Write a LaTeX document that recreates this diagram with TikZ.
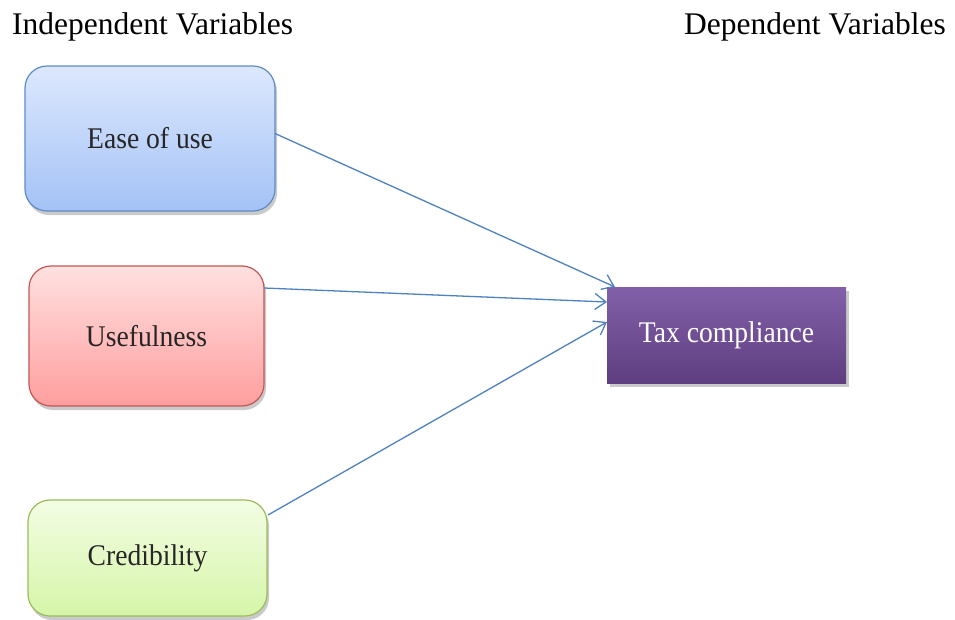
\documentclass[tikz,border=0pt]{standalone}
\usepackage{fontspec}
\setmainfont{Liberation Serif}
\usetikzlibrary{arrows.meta,shadows,calc}
\definecolor{blueT}{HTML}{DCE8FD}
\definecolor{blueB}{HTML}{A4C2F6}
\definecolor{blueD}{HTML}{5E8BC4}
\definecolor{redT}{HTML}{FFE0E0}
\definecolor{redB}{HTML}{FF9E9E}
\definecolor{redD}{HTML}{C25754}
\definecolor{greenT}{HTML}{F3FDE4}
\definecolor{greenB}{HTML}{D6F5A8}
\definecolor{greenD}{HTML}{9CBC5C}
\definecolor{purpT}{HTML}{8260A9}
\definecolor{purpB}{HTML}{5E3E80}
\definecolor{arrowC}{HTML}{4F81BD}
\newcommand{\boxtxt}[1]{\scalebox{0.92}[1]{#1}}
\tikzset{
  varbox/.style={rounded corners=22pt, line width=1.2pt, inner sep=0pt, outer sep=0pt,
    font=\fontsize{30}{32}\selectfont, text=black!85,
    drop shadow={shadow xshift=2pt, shadow yshift=-4pt, opacity=0.35, fill=black!60}},
  depbox/.style={inner sep=0pt, outer sep=0pt, top color=purpT, bottom color=purpB,
    font=\fontsize{30}{32}\selectfont, text=white,
    drop shadow={shadow xshift=3pt, shadow yshift=-4pt, opacity=0.35, fill=black!60}},
  title/.style={font=\fontsize{31.5}{34}\selectfont, anchor=base west, inner sep=0pt},
  link/.style={draw=arrowC, line width=1.3pt, -{Straight Barb[length=11pt,width=16pt,line width=1.3pt]}}
}
\begin{document}
\begin{tikzpicture}[x=1pt,y=-1pt]
\useasboundingbox (0,0) rectangle (955,619);
\node[title] (tl) at (12,34) {Independent Variables};
\node[title] (tr) at (684,34) {Dependent Variables};
\node[varbox, draw=blueD, top color=blueT, bottom color=blueB, minimum width=250pt, minimum height=145pt] (ease) at (150,138.5) {\boxtxt{Ease of use}};
\node[varbox, draw=redD, top color=redT, bottom color=redB, minimum width=235pt, minimum height=140pt] (use) at (146.5,336) {\boxtxt{Usefulness}};
\node[varbox, draw=greenD, top color=greenT, bottom color=greenB, minimum width=239pt, minimum height=116pt] (cred) at (147.5,558) {\boxtxt{Credibility}};
\node[depbox, minimum width=239pt, minimum height=96pt] (tax) at (726.5,335) {\boxtxt{Tax compliance}};
\draw[link] ($(ease.east)+(0,-5)$) -- ($(tax.north west)+(8,0)$);
\draw[link] ($(use.north east)+(0,22)$) -- ($(tax.west)+(0,-33)$);
\draw[link] ($(cred.north east)+(1,15)$) -- ($(tax.west)+(0,-13)$);
\end{tikzpicture}
\end{document}
